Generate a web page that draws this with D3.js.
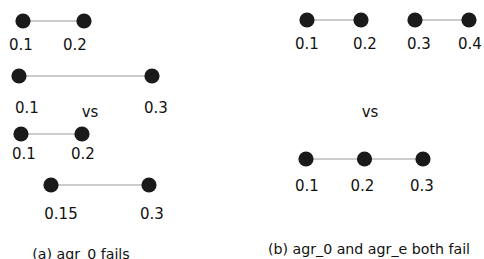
<!DOCTYPE html>
<html>
<head>
<meta charset="utf-8">
<script src="https://cdn.jsdelivr.net/npm/d3@7"></script>
<style>
  html, body { margin: 0; padding: 0; background: #fff; }
  text { font-family: "DejaVu Sans", sans-serif; fill: #111; }
</style>
</head>
<body>
<svg id="chart" width="484" height="259"></svg>
<script>
// values shown on each row of dots (left panel rows 0-3, right panel rows 4-5)
const rowValues = [
  [0.1, 0.2],
  [0.1, 0.3],
  [0.1, 0.2],
  [0.15, 0.3],
  [0.1, 0.2, 0.3, 0.4],
  [0.1, 0.2, 0.3]
]
// which dots are joined by a line (index pairs)
const rowLinks = [
  [[0, 1]],
  [[0, 1]],
  [[0, 1]],
  [[0, 1]],
  [[0, 1], [2, 3]],
  [[0, 1], [1, 2]]
]
const vsText = 'vs'
const captions = ['(a) agr_0 fails', '(b) agr_0 and agr_e both fail']

// layout only: where each row sits and how its labels are nudged
const rowLayout = [
  { y: 21,  range: [23, 84],   labelY: 50,  labelDx: [-2, -9] },
  { y: 76,  range: [19, 152],  labelY: 113, labelDx: [8, 4] },
  { y: 134, range: [21, 82],   labelY: 159, labelDx: [3, 1] },
  { y: 185, range: [51, 149],  labelY: 219, labelDx: [10, 3] },
  { y: 20,  range: [307, 469], labelY: 49,  labelDx: [0, 4, 4, 1] },
  { y: 159, range: [306, 423], labelY: 191, labelDx: [1, -2, -1] }
]
const vsPos = [[90, 117], [370, 117]]
const captionPos = [[81, 259], [369, 254]]

const svg = d3.select('#chart')

rowValues.forEach((vals, i) => {
  const lay = rowLayout[i]
  const x = d3.scaleLinear()
    .domain(d3.extent(vals))
    .range(lay.range)

  const g = svg.append('g').attr('class', 'row')

  g.selectAll('line')
    .data(rowLinks[i])
    .join('line')
    .attr('x1', d => x(vals[d[0]]))
    .attr('x2', d => x(vals[d[1]]))
    .attr('y1', lay.y)
    .attr('y2', lay.y)
    .attr('stroke', '#9a9a9a')
    .attr('stroke-width', 1.2)

  g.selectAll('circle')
    .data(vals)
    .join('circle')
    .attr('cx', d => x(d))
    .attr('cy', lay.y)
    .attr('r', 7.6)
    .attr('fill', '#1a1a1a')

  g.selectAll('text')
    .data(vals)
    .join('text')
    .attr('x', (d, j) => x(d) + lay.labelDx[j])
    .attr('y', lay.labelY)
    .attr('text-anchor', 'middle')
    .attr('font-size', 15)
    .text(d => String(d))
})

svg.selectAll('text.vs')
  .data(vsPos)
  .join('text')
  .attr('class', 'vs')
  .attr('x', d => d[0])
  .attr('y', d => d[1])
  .attr('text-anchor', 'middle')
  .attr('font-size', 15)
  .text(vsText)

svg.selectAll('text.caption')
  .data(captions)
  .join('text')
  .attr('class', 'caption')
  .attr('x', (d, i) => captionPos[i][0])
  .attr('y', (d, i) => captionPos[i][1])
  .attr('text-anchor', 'middle')
  .attr('font-size', 14.2)
  .text(d => d)
</script>
</body>
</html>
